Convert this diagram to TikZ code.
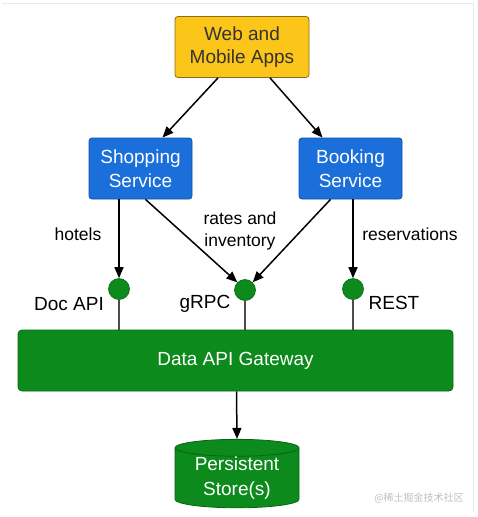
\documentclass[tikz,border=0pt]{standalone}
\usepackage{fontspec}
\setmainfont{Liberation Sans}
\newfontfamily\cjk{Noto Sans CJK SC}
\usetikzlibrary{arrows.meta,shapes.geometric}
\definecolor{ylw}{HTML}{FBC51A}
\definecolor{ylwd}{HTML}{8A6D10}
\definecolor{blu}{HTML}{1A6FDB}
\definecolor{blud}{HTML}{14509E}
\definecolor{grn}{HTML}{0C8A1C}
\definecolor{grnd}{HTML}{086414}
\tikzset{
  box/.style={draw, rounded corners=3pt, line width=0.8pt, align=center, inner sep=0pt, font=\fontsize{19}{23.5}\selectfont},
  arr/.style={-{Triangle[length=11pt,width=9pt]}, line width=1.5pt, black},
  port/.style={circle, fill=grn, draw=grnd, line width=0.6pt, minimum size=21pt, inner sep=0pt},
  lbl/.style={font=\fontsize{19}{22}\selectfont, align=center, inner sep=0pt},
  slbl/.style={font=\fontsize{17.5}{22}\selectfont, align=center, inner sep=0pt},
  stem/.style={line width=1.5pt, draw=black!70},
}
\begin{document}
\begin{tikzpicture}[x=1pt,y=-1pt]
\useasboundingbox (0,0) rectangle (477,517);
\draw[black!8, line width=1pt] (2,3) -- (473,3) -- (473,512);
\node[box, fill=ylw, draw=ylwd, text=black!80, minimum width=134pt, minimum height=61pt] (web) at (242,47) {Web and\\Mobile Apps};
\node[box, fill=blu, draw=blud, text=white, minimum width=103pt, minimum height=61pt] (shop) at (140.5,168.5) {Shopping\\Service};
\node[box, fill=blu, draw=blud, text=white, minimum width=103pt, minimum height=61pt] (book) at (350.5,168.5) {Booking\\Service};
\node[box, fill=grn, draw=grnd, text=white, rounded corners=4pt, minimum width=435pt, minimum height=61pt] (gw) at (235.5,360.5) {Data API Gateway};
\node[port] (pdoc) at (119,289) {};
\node[port] (pgrpc) at (245,290) {};
\node[port] (prest) at (353,289) {};
\node[cylinder, shape border rotate=90, aspect=0.2, fill=grn, draw=grnd, line width=0.8pt, text=white, minimum width=124pt, minimum height=64pt, align=center, inner sep=0pt, font=\fontsize{19}{25}\selectfont] (store) at (237,478) {Persistent\\Store(s)};
\node[lbl] (ldoc) at (69,304) {Doc API};
\node[lbl] (lgrpc) at (205,304) {gRPC};
\node[lbl] (lrest) at (394,303) {REST};
\node[slbl] (lhot) at (78,234) {hotels};
\node[slbl] (lrate) at (240,231) {rates and\\inventory};
\node[slbl] (lres) at (410,234) {reservations};
\node[text=black!25, font=\cjk\fontsize{10}{12}\selectfont, inner sep=0pt] (wm) at (419,498) {@稀土掘金技术社区};
\draw[arr] ([xshift=-24pt]web.south) -- ([xshift=22pt]shop.north);
\draw[arr] ([xshift=28pt]web.south) -- ([xshift=-28pt]book.north);
\draw[arr] (shop.south -| pdoc) -- (pdoc.north);
\draw[arr] ([xshift=5pt]shop.south) -- (pgrpc.north west);
\draw[arr] ([xshift=-20pt]book.south) -- (pgrpc.north east);
\draw[arr] (book.south -| prest) -- (prest.north);
\draw[stem] (pdoc.south) -- (gw.north -| pdoc);
\draw[stem] (pgrpc.south) -- (gw.north -| pgrpc);
\draw[stem] (prest.south) -- (gw.north -| prest);
\draw[arr] ([xshift=1pt]gw.south) -- (store.top);
\end{tikzpicture}
\end{document}
